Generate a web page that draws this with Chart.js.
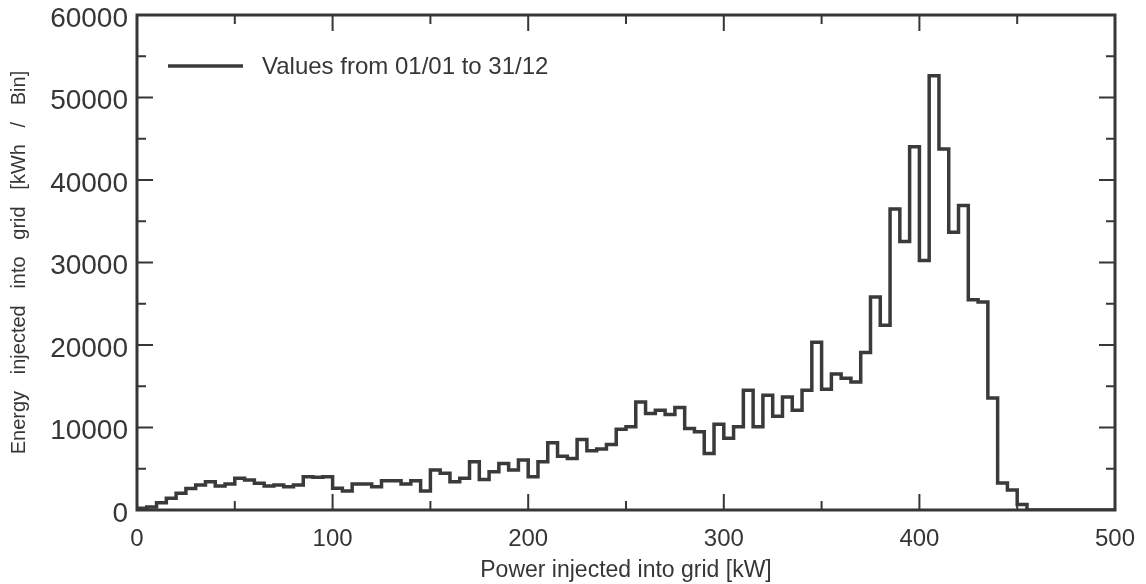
<!DOCTYPE html>
<html>
<head>
<meta charset="utf-8">
<script src="https://cdn.jsdelivr.net/npm/chart.js@4.4.1/dist/chart.umd.min.js"></script>
<style>
  body { margin: 0; background: #ffffff; }
  #wrap { width: 1146px; height: 584px; }
</style>
</head>
<body>
<div id="wrap"><canvas id="chart" width="1146" height="584"></canvas></div>
<script>
const binWidth = 5; // kW per bin
const energy = [
  200, 350, 880, 1420, 2020, 2620, 3030, 3430, 2900, 3150,
  3840, 3630, 3230, 2900, 3030, 2820, 3030, 4030, 3960, 4030,
  2630, 2300, 3150, 3150, 2820, 3550, 3550, 3150, 3550, 2300,
  4840, 4440, 3430, 3840, 5840, 3710, 4630, 5650, 4840, 6050,
  4030, 5840, 8140, 6530, 6250, 8550, 7180, 7380, 7950, 9800,
  10080, 13100, 11700, 12100, 11580, 12430, 9890, 9470, 6860, 10400,
  8700, 10080, 14520, 10080, 13900, 11370, 13710, 12100, 14520, 20330,
  14640, 16500, 15970, 15520, 19090, 25830, 22380, 36500, 32550, 44040,
  30250, 52630, 43770, 33670, 36900, 25500, 25200, 13580, 3270, 2420,
  670, 0, 0, 0, 0, 0, 0, 0, 0, 0
];
const xTicks = [0, 100, 200, 300, 400, 500];
const yTicks = [0, 10000, 20000, 30000, 40000, 50000, 60000];
const seriesLabel = 'Values from 01/01 to 31/12';

// bin left edges, plus the closing edge at the end
var points = energy.map(function(v, i) { return { x: i * binWidth, y: v }; });
points.push({ x: energy.length * binWidth, y: energy[energy.length - 1] });

const ink = '#363636';
const fontFamily = '"Liberation Sans", Arial, sans-serif';

// frame, inward ticks on all four sides and the legend
const framePlugin = {
  id: 'frame',
  afterDatasetsDraw: function(chart) {
    const ctx = chart.ctx;
    const a = chart.chartArea;
    const xs = chart.scales.x;
    const ys = chart.scales.y;
    ctx.save();
    ctx.strokeStyle = ink;
    ctx.lineWidth = 2;
    for (var v = 0; v <= 500; v += 50) {
      var px = xs.getPixelForValue(v);
      var len = v % 100 === 0 ? 16 : 9;
      ctx.beginPath();
      ctx.moveTo(px, a.bottom); ctx.lineTo(px, a.bottom - len);
      ctx.moveTo(px, a.top); ctx.lineTo(px, a.top + len);
      ctx.stroke();
    }
    for (var w = 0; w <= 60000; w += 5000) {
      var py = ys.getPixelForValue(w);
      var l = w % 10000 === 0 ? 16 : 9;
      ctx.beginPath();
      ctx.moveTo(a.left, py); ctx.lineTo(a.left + l, py);
      ctx.moveTo(a.right, py); ctx.lineTo(a.right - l, py);
      ctx.stroke();
    }
    ctx.lineWidth = 3;
    ctx.strokeRect(a.left, a.top, a.right - a.left, a.bottom - a.top);

    // legend
    const ds = chart.data.datasets[0];
    ctx.strokeStyle = ds.borderColor;
    ctx.lineWidth = ds.borderWidth;
    ctx.beginPath();
    ctx.moveTo(a.left + 31, 66);
    ctx.lineTo(a.left + 106, 66);
    ctx.stroke();
    ctx.fillStyle = ink;
    ctx.font = '24px ' + fontFamily;
    ctx.textBaseline = 'middle';
    ctx.fillText(ds.label, a.left + 125, 67);
    ctx.restore();
  }
};

const config = {
  type: 'line',
  data: {
    datasets: [{
      label: seriesLabel,
      data: points,
      stepped: 'before',
      borderColor: '#3a3a3a',
      borderWidth: 3.5,
      pointRadius: 0,
      fill: false
    }]
  },
  options: {
    responsive: false,
    animation: false,
    layout: { padding: { top: 15, right: 31, left: 0, bottom: 0 } },
    plugins: {
      legend: { display: false },
      tooltip: { enabled: false }
    },
    scales: {
      x: {
        type: 'linear',
        min: 0,
        max: 500,
        afterBuildTicks: function(scale) {
          scale.ticks = xTicks.map(function(v) { return { value: v }; });
        },
        afterFit: function(scale) {
          scale.height = 74;
          scale.paddingLeft = 0;
          scale.paddingRight = 0;
        },
        grid: { display: false, drawTicks: false },
        border: { display: false },
        ticks: {
          color: ink,
          padding: 15,
          maxRotation: 0,
          autoSkip: false,
          font: { family: fontFamily, size: 24 }
        },
        title: {
          display: true,
          text: 'Power injected into grid [kW]',
          color: ink,
          padding: { top: 0, bottom: 0 },
          font: { family: fontFamily, size: 23 }
        }
      },
      y: {
        min: 0,
        max: 60000,
        afterBuildTicks: function(scale) {
          scale.ticks = yTicks.map(function(v) { return { value: v }; });
        },
        afterFit: function(scale) {
          scale.width = 137;
          scale.paddingTop = 0;
          scale.paddingBottom = 0;
        },
        grid: { display: false, drawTicks: false },
        border: { display: false },
        ticks: {
          color: ink,
          padding: 9,
          labelOffset: 4,
          autoSkip: false,
          font: { family: fontFamily, size: 28 },
          callback: function(v) { return String(v); }
        },
        title: {
          display: true,
          text: 'Energy   injected   into   grid   [kWh   /   Bin]',
          color: ink,
          padding: { top: 7, bottom: 0 },
          font: { family: fontFamily, size: 20 }
        }
      }
    }
  },
  plugins: [framePlugin]
};

const chart = new Chart(document.getElementById('chart'), config);
</script>
</body>
</html>
